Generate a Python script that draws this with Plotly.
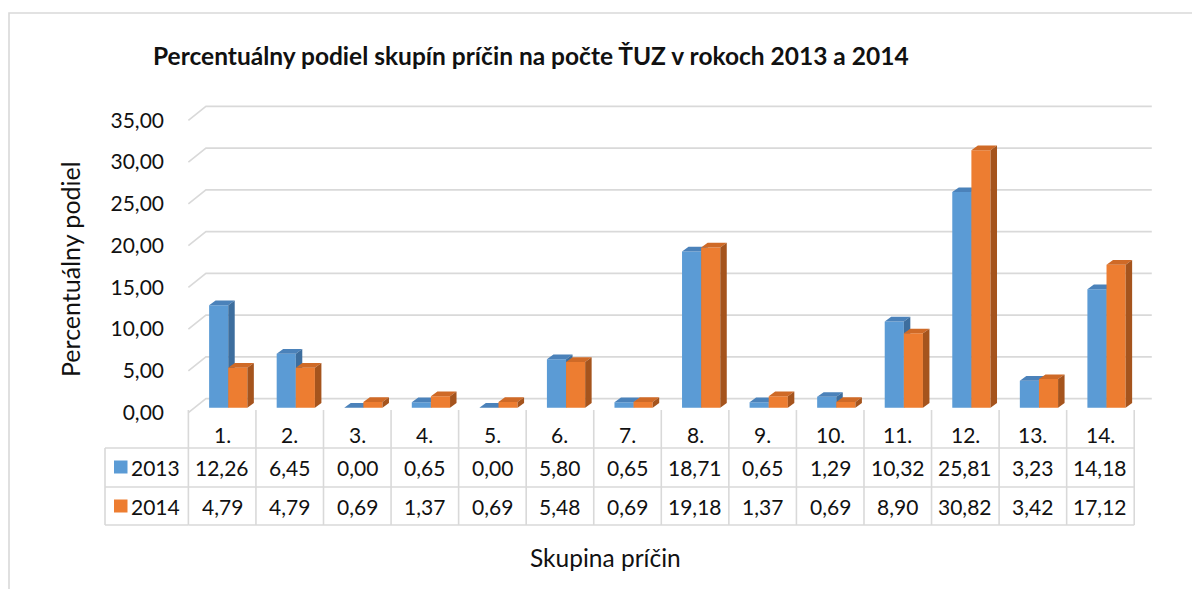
import plotly.graph_objects as go

# ---------------- data ----------------
categories = ["1.", "2.", "3.", "4.", "5.", "6.", "7.", "8.", "9.", "10.", "11.", "12.", "13.", "14."]
series_names = ["2013", "2014"]
values_2013 = [12.26, 6.45, 0.00, 0.65, 0.00, 5.80, 0.65, 18.71, 0.65, 1.29, 10.32, 25.81, 3.23, 14.18]
values_2014 = [4.79, 4.79, 0.69, 1.37, 0.69, 5.48, 0.69, 19.18, 1.37, 0.69, 8.90, 30.82, 3.42, 17.12]
y_ticks = [0, 5, 10, 15, 20, 25, 30, 35]

title_text = "Percentuálny podiel skupín príčin na počte ŤUZ v rokoch 2013 a 2014"
y_title = "Percentuálny podiel"
x_title = "Skupina príčin"

# ---------------- style ----------------
W, H = 1200, 589
OFF = 8  # page body margin of the html page
# plot area in screen pixels (reference): left 185, right 1168, top 102, bottom 421
M_L = 185 - OFF
M_T = 102 - OFF
M_R = W - (1168 - OFF)
M_B = H - (421 - OFF)
X_RANGE = [-0.55, 14.0]
Y_RANGE = [-1.6, 36.6]
FONT = "Lato"
TXT = "#111111"
GRID = "#D9D9D9"
colors = {
    "2013": {"front": "#5B9BD5", "top": "#4B82BA", "side": "#3D6E9E"},
    "2014": {"front": "#ED7D31", "top": "#CF6A27", "side": "#A5541D"},
}
BAR_W = 0.283
BAR_O = 0.09
DX, DY = 0.096, 0.56          # bar depth (data units)
BACK_DX, BACK_DY = 0.26, 1.08  # back wall offset
FRONT_DY = -0.6                # front plane offset
FS_NUM = 21
FS_TXT = 24.5

plot_h = H - M_T - M_B
plot_w = W - M_L - M_R


def py(px):
    """screen pixel row -> paper y"""
    return (H - M_B - (px - OFF)) / plot_h


def pxp(px):
    """screen pixel column -> paper x"""
    return ((px - OFF) - M_L) / plot_w


fig = go.Figure()

# ---- 3D-like gridlines (back wall + left diagonal) ----
gx, gy = [], []
for v in y_ticks:
    gx += [-0.5, -0.5 + BACK_DX, 13.5 + BACK_DX, None]
    gy += [v + FRONT_DY, v + BACK_DY, v + BACK_DY, None]
fig.add_trace(go.Scatter(x=gx, y=gy, mode="lines", line=dict(color=GRID, width=1.6),
                         hoverinfo="skip", showlegend=False))

# ---- bars drawn as faces ----
def faces(vals, left_off):
    fx, fy, tx, ty, sx, sy = [], [], [], [], [], []
    for i, v in enumerate(vals):
        xl = i + left_off
        xr = xl + BAR_W
        fx += [xl, xl, xr, xr, xl, None]
        fy += [0, v, v, 0, 0, None]
        tx += [xl, xr, xr + DX, xl + DX, xl, None]
        ty += [v, v, v + DY, v + DY, v, None]
        sx += [xr, xr, xr + DX, xr + DX, xr, None]
        sy += [0, v, v + DY, DY, 0, None]
    return (fx, fy), (tx, ty), (sx, sy)

for name, vals, off in [("2013", values_2013, BAR_O - BAR_W), ("2014", values_2014, BAR_O)]:
    f, t, s = faces(vals, off)
    c = colors[name]
    for (xx, yy), col in [(f, c["front"]), (t, c["top"]), (s, c["side"])]:
        fig.add_trace(go.Scatter(x=xx, y=yy, mode="lines", fill="toself", fillcolor=col,
                                 line=dict(width=0, color=col), hoverinfo="skip",
                                 showlegend=False, name=name))

shapes = []
annotations = []

# ---- chart border ----
shapes.append(dict(type="rect", xref="paper", yref="paper",
                   x0=pxp(9), x1=pxp(1230), y0=py(620), y1=py(13),
                   line=dict(color=GRID, width=1.6), fillcolor="rgba(0,0,0,0)", layer="below"))

# ---- data table ----
row_top, row1, row2, row3 = 410, 448, 487, 525
tbl_left = 105
for i in range(len(categories) + 1):
    shapes.append(dict(type="line", xref="x", yref="paper", x0=i - 0.5, x1=i - 0.5,
                       y0=py(row_top), y1=py(row3), line=dict(color=GRID, width=1.6)))
shapes.append(dict(type="line", xref="paper", yref="paper", x0=pxp(tbl_left), x1=pxp(tbl_left),
                   y0=py(row1), y1=py(row3), line=dict(color=GRID, width=1.6)))
for r in [row1, row2, row3]:
    shapes.append(dict(type="line", xref="paper", yref="paper", x0=pxp(tbl_left), x1=pxp(188.4),
                       y0=py(r), y1=py(r), line=dict(color=GRID, width=1.6)))
    shapes.append(dict(type="line", xref="x", yref="paper", x0=-0.5, x1=13.5,
                       y0=py(r), y1=py(r), line=dict(color=GRID, width=1.6)))

for i, c in enumerate(categories):
    annotations.append(dict(x=i, y=py(434), xref="x", yref="paper", text=c, showarrow=False,
                            font=dict(family=FONT, size=FS_NUM, color=TXT), xanchor="center", yanchor="middle"))
for name, vals, rc in [("2013", values_2013, 467), ("2014", values_2014, 506)]:
    for i, v in enumerate(vals):
        annotations.append(dict(x=i, y=py(rc), xref="x", yref="paper",
                                text=f"{v:.2f}".replace(".", ","), showarrow=False,
                                font=dict(family=FONT, size=FS_NUM, color=TXT), xanchor="center", yanchor="middle"))
    shapes.append(dict(type="rect", xref="paper", yref="paper", x0=pxp(114), x1=pxp(127.5),
                       y0=py(rc - 6.5), y1=py(rc + 6.5), fillcolor=colors[name]["front"],
                       line=dict(width=0)))
    annotations.append(dict(x=pxp(129), y=py(rc), xref="paper", yref="paper", text=name,
                            showarrow=False, font=dict(family=FONT, size=FS_NUM, color=TXT),
                            xanchor="left", yanchor="middle"))

# ---- titles ----
annotations.append(dict(x=pxp(531), y=py(55), xref="paper", yref="paper", text=f"<b>{title_text}</b>",
                        showarrow=False, font=dict(family=FONT, size=24.5, color=TXT),
                        xanchor="center", yanchor="middle"))
annotations.append(dict(x=pxp(70), y=py(269), xref="paper", yref="paper", text=y_title,
                        textangle=-90, showarrow=False, font=dict(family=FONT, size=25, color=TXT),
                        xanchor="center", yanchor="middle"))
annotations.append(dict(x=pxp(605), y=py(557), xref="paper", yref="paper", text=x_title,
                        showarrow=False, font=dict(family=FONT, size=FS_TXT, color=TXT),
                        xanchor="center", yanchor="middle"))

fig.update_layout(
    width=W, height=H,
    margin=dict(l=M_L, r=M_R, t=M_T, b=M_B, pad=0),
    paper_bgcolor="white", plot_bgcolor="white",
    separators=", ",
    showlegend=False,
    shapes=shapes, annotations=annotations,
    xaxis=dict(range=X_RANGE, showgrid=False, zeroline=False, showticklabels=False,
               showline=False, ticks="", fixedrange=True),
    yaxis=dict(range=Y_RANGE, tickvals=y_ticks, tickformat=".2f", showgrid=False,
               zeroline=False, showline=False, ticks="",
               tickfont=dict(family=FONT, size=FS_NUM, color=TXT),
               ticklabelstandoff=20, ticklabelshift=5, fixedrange=True),
)

fig.write_html("out.html")
